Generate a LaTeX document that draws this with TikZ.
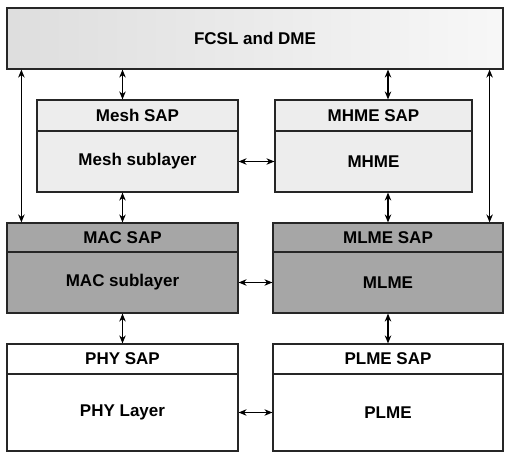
\documentclass[tikz,border=0pt]{standalone}
\usepackage{fontspec}
\setmainfont{Liberation Sans}
\usetikzlibrary{arrows.meta}
\begin{document}
\begin{tikzpicture}[x=1pt,y=-1pt,
  box/.style={draw=black!85,line width=1.2pt,rectangle,inner sep=0pt,font=\fontsize{17}{20}\selectfont\bfseries},
  light/.style={box,fill=black!7},
  dark/.style={box,fill=black!35},
  plain/.style={box,fill=white},
  arr/.style={line width=1.3pt,{Stealth[length=8pt,width=6.5pt]}-{Stealth[length=8pt,width=6.5pt]}}]
\useasboundingbox (0,0) rectangle (508,457);
% top
\node[box,left color=black!13,right color=black!3,minimum width=496pt,minimum height=61pt] (top) at (255,38.5) {FCSL and DME};
% mesh
\node[light,minimum width=201pt,minimum height=31pt] (meshH) at (137.5,115.5) {Mesh SAP};
\node[light,minimum width=201pt,minimum height=61pt] (meshB) at (137.5,161.5) {Mesh sublayer};
\node[light,minimum width=197pt,minimum height=31pt] (mhmeH) at (373.5,115.5) {MHME SAP};
\node[light,minimum width=197pt,minimum height=61pt] (mhmeB) at (373.5,161.5) {MHME};
% mac
\node[dark,minimum width=231pt,minimum height=29pt] (macH) at (122.5,237.5) {MAC SAP};
\node[dark,minimum width=231pt,minimum height=61pt] (macB) at (122.5,282.5) {MAC sublayer};
\node[dark,minimum width=230pt,minimum height=29pt] (mlmeH) at (388,237.5) {MLME SAP};
\node[dark,minimum width=230pt,minimum height=61pt] (mlmeB) at (388,282.5) {MLME};
% phy
\node[plain,minimum width=231pt,minimum height=30pt] (phyH) at (122.5,359) {PHY SAP};
\node[plain,minimum width=231pt,minimum height=77pt] (phyB) at (122.5,412.5) {PHY Layer};
\node[plain,minimum width=230pt,minimum height=30pt] (plmeH) at (388,359) {PLME SAP};
\node[plain,minimum width=230pt,minimum height=77pt] (plmeB) at (388,412.5) {PLME};
% vertical arrows
\draw[arr] (top.south -| macH.north) -- (macH.north |- meshH.north);
\draw[arr] (meshB.south -| macH.north) -- (macH.north);
\draw[arr] (top.south -| mlmeH.north) -- (mlmeH.north |- mhmeH.north);
\draw[arr] (mhmeB.south -| mlmeH.north) -- (mlmeH.north);
\draw[arr] (macB.south) -- (phyH.north);
\draw[arr] (mlmeB.south) -- (plmeH.north);
\draw[arr] ([xshift=15pt]top.south west) -- ([xshift=15pt]top.south west |- macH.north);
\draw[arr] ([xshift=-14pt]top.south east) -- ([xshift=-14pt]top.south east |- mlmeH.north);
% horizontal arrows
\draw[arr] (meshB.east) -- (mhmeB.west);
\draw[arr] (macB.east) -- (mlmeB.west);
\draw[arr] (phyB.east) -- (plmeB.west);
\end{tikzpicture}
\end{document}
